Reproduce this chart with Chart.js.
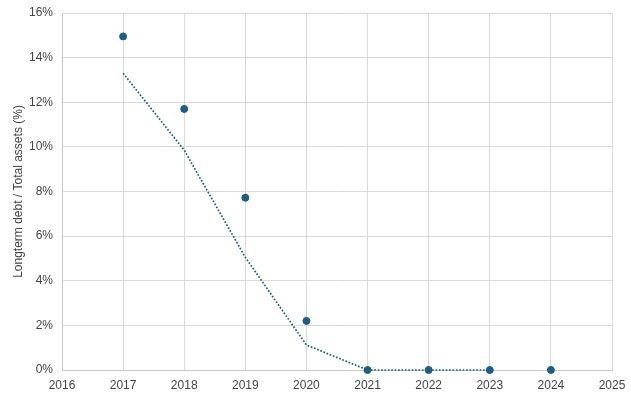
<!DOCTYPE html>
<html>
<head>
<meta charset="utf-8">
<script src="https://cdn.jsdelivr.net/npm/chart.js@4"></script>
<style>
  html, body { margin: 0; padding: 0; background: #fff; }
  #wrap { width: 631px; height: 396px; }
</style>
</head>
<body>
<div id="wrap"><canvas id="grafico"></canvas></div>
<script>
// Datos
const anios = [2017, 2018, 2019, 2020, 2021, 2022, 2023, 2024];
const deuda = [14.95, 11.7, 7.72, 2.2, 0, 0, 0, 0];

const aniosTendencia = [2017, 2018, 2019, 2020, 2021, 2022, 2023];
const tendencia = [13.3, 9.85, 5.05, 1.12, 0, 0, 0];

const ticksY = [0, 2, 4, 6, 8, 10, 12, 14, 16];

const azul = '#1b5f82';

new Chart(document.getElementById('grafico'), {
    type: 'scatter',
    data: {
        datasets: [
            {
                label: 'Deuda',
                data: anios.map((a, i) => ({ x: a, y: deuda[i] })),
                backgroundColor: azul,
                borderColor: azul,
                pointRadius: 3.5,
                showLine: false,
                clip: false
            },
            {
                label: 'Tendencia',
                data: aniosTendencia.map((a, i) => ({ x: a, y: tendencia[i] })),
                borderColor: azul,
                borderWidth: 1.7,
                borderDash: [1.7, 1.7],
                pointRadius: 0,
                showLine: true,
                fill: false,
                clip: false
            }
        ]
    },
    options: {
        responsive: true,
        maintainAspectRatio: false,
        animation: false,
        layout: { padding: { top: 13, right: 19, left: 11, bottom: 0 } },
        plugins: {
            legend: { display: false },
            tooltip: { enabled: false }
        },
        scales: {
            x: {
                type: 'linear',
                min: 2016,
                max: 2025,
                afterFit: eje => { eje.height = 26; eje.paddingLeft = 0; eje.paddingRight = 0; },
                ticks: {
                    stepSize: 1,
                    color: '#444',
                    font: { family: 'Liberation Sans', size: 12 },
                    callback: v => String(v),
                    padding: 8
                },
                grid: { color: '#d9d9d9', drawTicks: false },
                border: { color: '#c8c8c8' }
            },
            y: {
                min: 0,
                max: 16,
                afterBuildTicks: eje => { eje.ticks = ticksY.map(v => ({ value: v })); },
                afterFit: eje => { eje.width = 51; eje.paddingTop = 0; },
                ticks: {
                    color: '#444',
                    font: { family: 'Liberation Sans', size: 12 },
                    callback: v => v + '%',
                    padding: 9
                },
                grid: { color: '#d9d9d9', drawTicks: false },
                border: { color: '#c8c8c8' },
                title: {
                    display: true,
                    text: 'Longterm debt / Total assets (%)',
                    color: '#444',
                    font: { family: 'Liberation Sans', size: 12 },
                    padding: { top: 0, bottom: 0 }
                }
            }
        }
    }
});
</script>
</body>
</html>
